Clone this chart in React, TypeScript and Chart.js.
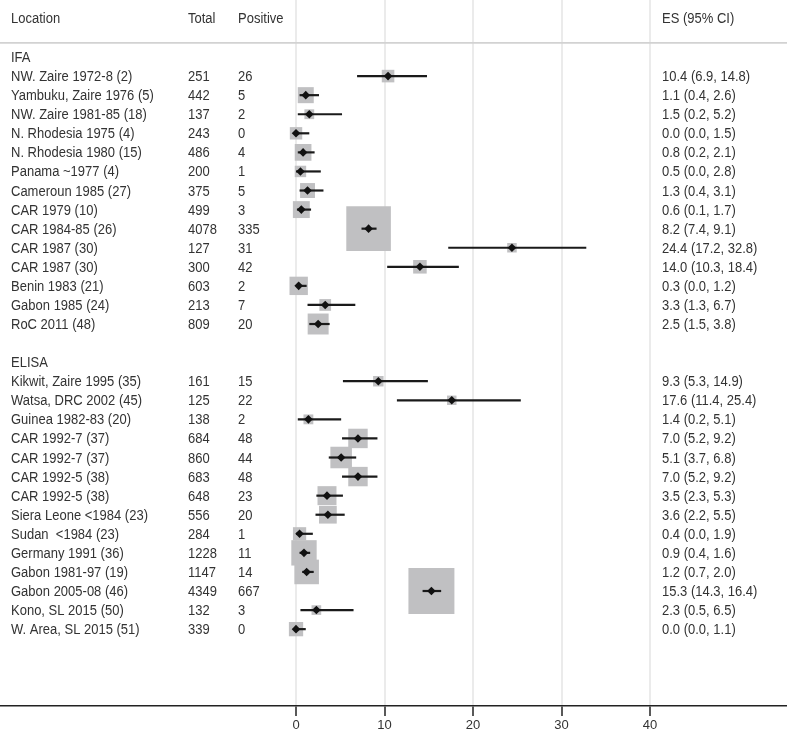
import React, { useEffect, useRef } from 'react';
import { Chart, registerables } from 'chart.js';

Chart.register(...registerables);

// ---- data ----
const headers = ['Location', 'Total', 'Positive', 'ES (95% CI)'];
const groupNames = ['IFA', 'ELISA'];
const groupCounts = [14, 14];

const locations = [
  'NW. Zaire 1972-8 (2)',
  'Yambuku, Zaire 1976 (5)',
  'NW. Zaire 1981-85 (18)',
  'N. Rhodesia 1975 (4)',
  'N. Rhodesia 1980 (15)',
  'Panama ~1977 (4)',
  'Cameroun 1985 (27)',
  'CAR 1979 (10)',
  'CAR 1984-85 (26)',
  'CAR 1987 (30)',
  'CAR 1987 (30)',
  'Benin 1983 (21)',
  'Gabon 1985 (24)',
  'RoC 2011 (48)',
  'Kikwit, Zaire 1995 (35)',
  'Watsa, DRC 2002 (45)',
  'Guinea 1982-83 (20)',
  'CAR 1992-7 (37)',
  'CAR 1992-7 (37)',
  'CAR 1992-5 (38)',
  'CAR 1992-5 (38)',
  'Siera Leone <1984 (23)',
  'Sudan  <1984 (23)',
  'Germany 1991 (36)',
  'Gabon 1981-97 (19)',
  'Gabon 2005-08 (46)',
  'Kono, SL 2015 (50)',
  'W. Area, SL 2015 (51)',
];

const totals = [
  251, 442, 137, 243, 486, 200, 375, 499, 4078, 127, 300, 603, 213, 809,
  161, 125, 138, 684, 860, 683, 648, 556, 284, 1228, 1147, 4349, 132, 339,
];

const positives = [
  26, 5, 2, 0, 4, 1, 5, 3, 335, 31, 42, 2, 7, 20,
  15, 22, 2, 48, 44, 48, 23, 20, 1, 11, 14, 667, 3, 0,
];

const esValues = [
  10.4, 1.1, 1.5, 0.0, 0.8, 0.5, 1.3, 0.6, 8.2, 24.4, 14.0, 0.3, 3.3, 2.5,
  9.3, 17.6, 1.4, 7.0, 5.1, 7.0, 3.5, 3.6, 0.4, 0.9, 1.2, 15.3, 2.3, 0.0,
];

const ciLower = [
  6.9, 0.4, 0.2, 0.0, 0.2, 0.0, 0.4, 0.1, 7.4, 17.2, 10.3, 0.0, 1.3, 1.5,
  5.3, 11.4, 0.2, 5.2, 3.7, 5.2, 2.3, 2.2, 0.0, 0.4, 0.7, 14.3, 0.5, 0.0,
];

const ciUpper = [
  14.8, 2.6, 5.2, 1.5, 2.1, 2.8, 3.1, 1.7, 9.1, 32.8, 18.4, 1.2, 6.7, 3.8,
  14.9, 25.4, 5.1, 9.2, 6.8, 9.2, 5.3, 5.5, 1.9, 1.6, 2.0, 16.4, 6.5, 1.1,
];

const xTicks = [0, 10, 20, 30, 40];

// ---- layout of rows (row index used as y value) ----
const groupRows: number[] = [];
const studyRows: number[] = [];
(() => {
  let r = 0;
  groupNames.forEach((_, gi) => {
    groupRows.push(r);
    r += 1;
    for (let j = 0; j < groupCounts[gi]; j++) {
      studyRows.push(r);
      r += 1;
    }
    r += 1;
  });
})();

const FONT = '13px "Liberation Sans", Arial, Helvetica, sans-serif';
const TEXT_COLOR = '#333333';

function drawText(ctx: CanvasRenderingContext2D, text: string, x: number, y: number) {
  ctx.save();
  ctx.translate(x, y);
  ctx.scale(1, 1.12);
  ctx.fillText(text, 0, 0);
  ctx.restore();
}

const tablePlugin = {
  id: 'forestTable',
  beforeDatasetsDraw(chart: any) {
    const { ctx, width } = chart;
    const ys = chart.scales.y;
    const yLine = ys.getPixelForValue(-0.74);
    ctx.save();
    ctx.strokeStyle = '#d2d2d2';
    ctx.lineWidth = 1.8;
    ctx.beginPath();
    ctx.moveTo(0, yLine);
    ctx.lineTo(width, yLine);
    ctx.stroke();
    ctx.restore();
  },
  afterDraw(chart: any) {
    const { ctx } = chart;
    const ys = chart.scales.y;
    const colX = [11, 188, 238, 662];
    ctx.save();
    ctx.font = FONT;
    ctx.fillStyle = TEXT_COLOR;
    ctx.textBaseline = 'middle';
    ctx.textAlign = 'left';
    const yh = ys.getPixelForValue(-2) + 0.5;
    headers.forEach((h, i) => drawText(ctx, h, colX[i], yh));
    groupNames.forEach((g, gi) => {
      drawText(ctx, g, colX[0], ys.getPixelForValue(groupRows[gi]) + 1);
    });
    locations.forEach((loc, i) => {
      const y = ys.getPixelForValue(studyRows[i]) + 1;
      drawText(ctx, loc, colX[0], y);
      drawText(ctx, String(totals[i]), colX[1], y);
      drawText(ctx, String(positives[i]), colX[2], y);
      drawText(
        ctx,
        `${esValues[i].toFixed(1)} (${ciLower[i].toFixed(1)}, ${ciUpper[i].toFixed(1)})`,
        colX[3],
        y,
      );
    });
    ctx.restore();
  },
};

export default function App() {
  const canvasRef = useRef<HTMLCanvasElement | null>(null);

  useEffect(() => {
    const canvas = canvasRef.current;
    if (!canvas) return;

    const ciDatasets = locations.map((_, i) => ({
      type: 'line' as const,
      data: [
        { x: ciLower[i], y: studyRows[i] },
        { x: ciUpper[i], y: studyRows[i] },
      ],
      borderColor: '#1a1a1a',
      borderWidth: 2.2,
      pointRadius: 0,
      showLine: true,
      fill: false,
      order: 2,
    }));

    const chart = new Chart(canvas, {
      type: 'scatter',
      data: {
        datasets: [
          {
            data: locations.map((_, i) => ({ x: esValues[i], y: studyRows[i] })),
            pointStyle: 'rect',
            pointRadius: (c: any) => (2 + 0.667 * Math.sqrt(totals[c.dataIndex])) / Math.SQRT2,
            backgroundColor: '#c0c0c2',
            borderWidth: 0,
            order: 3,
          } as any,
          ...ciDatasets,
          {
            data: locations.map((_, i) => ({ x: esValues[i], y: studyRows[i] })),
            pointStyle: 'rectRot',
            pointRadius: 4.3,
            backgroundColor: '#111111',
            borderWidth: 0,
            order: 1,
          } as any,
        ],
      },
      options: {
        animation: false,
        responsive: false,
        devicePixelRatio: 1,
        layout: { padding: 0, autoPadding: false },
        plugins: {
          legend: { display: false },
          tooltip: { enabled: false },
        },
        scales: {
          x: {
            type: 'linear',
            min: -33.45,
            max: 55.48,
            afterBuildTicks: (scale: any) => {
              scale.ticks = xTicks.map((v) => ({ value: v }));
            },
            afterFit: (scale: any) => {
              scale.height = 29;
            },
            grid: {
              color: '#ebebeb',
              lineWidth: 2,
              drawTicks: true,
              tickLength: 10,
              tickColor: '#222222',
              tickWidth: 1.5,
            },
            border: { display: true, color: '#222222', width: 1.6 },
            ticks: {
              font: { family: '"Liberation Sans", Arial, sans-serif', size: 13 },
              color: TEXT_COLOR,
              padding: 2,
              maxRotation: 0,
              autoSkip: false,
            },
          },
          y: {
            type: 'linear',
            display: false,
            reverse: true,
            min: -2.99,
            max: 34.03,
          },
        },
      } as any,
      plugins: [tablePlugin],
    });

    return () => chart.destroy();
  }, []);

  return (
    <div style={{ position: 'absolute', left: 0, top: 0, width: 787, height: 735 }}>
      <canvas ref={canvasRef} width={787} height={735} style={{ display: 'block' }} />
    </div>
  );
}
